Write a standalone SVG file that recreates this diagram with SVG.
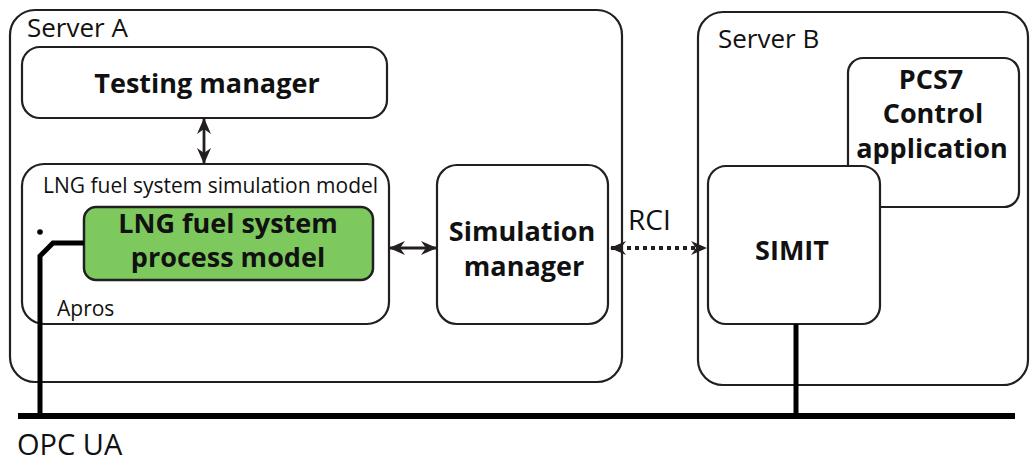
<svg xmlns="http://www.w3.org/2000/svg" width="1030" height="463" viewBox="0 0 1030 463">
<style>
.box{fill:#fff;stroke:#231f20;stroke-width:2.2}
.reg{font-family:"Open Sans","Liberation Sans",sans-serif;fill:#111}
.bold{font-family:"Open Sans","Liberation Sans",sans-serif;font-weight:bold;fill:#111;text-anchor:middle}
.thick{fill:none;stroke:#000;stroke-width:5}
.conn{fill:none;stroke:#231f20;stroke-width:2.8}
</style>
<defs>
<marker id="ah" viewBox="0 0 16 14" refX="15" refY="7" markerWidth="16" markerHeight="14" markerUnits="userSpaceOnUse" orient="auto-start-reverse">
<path d="M0,0 L16,7 L0,14 L5,7 z" fill="#231f20"/>
</marker>
</defs>
<rect width="1030" height="463" fill="#fff"/>
<g id="serverA">
<rect class="box" x="10" y="10" width="612" height="372" rx="25"/>
<text class="reg" x="27" y="37" font-size="26">Server A</text>
</g>
<g id="serverB">
<rect class="box" x="698" y="12" width="330" height="373" rx="25"/>
<text class="reg" x="718" y="48" font-size="26">Server B</text>
</g>
<g id="testing-manager">
<rect class="box" x="22" y="47" width="365" height="71" rx="18"/>
<text class="bold" x="207" y="93" font-size="27">Testing manager</text>
</g>
<g id="simulation-model">
<rect class="box" x="22" y="164" width="367" height="160" rx="22"/>
<text class="reg" x="43" y="193" font-size="21">LNG fuel system simulation model</text>
<text class="reg" x="57" y="316" font-size="21">Apros</text>
</g>
<g id="process-model">
<rect x="84" y="207" width="289" height="73" rx="12" fill="#7ec95e" stroke="#231f20" stroke-width="2.5"/>
<text class="bold" x="228" y="233" font-size="27">LNG fuel system</text>
<text class="bold" x="228" y="267" font-size="27">process model</text>
</g>
<g id="simulation-manager">
<rect class="box" x="437" y="165" width="171" height="159" rx="20"/>
<text class="bold" x="522" y="241" font-size="27">Simulation</text>
<text class="bold" x="524" y="276" font-size="27">manager</text>
</g>
<g id="pcs7">
<rect class="box" x="848" y="58" width="171" height="149" rx="15"/>
<text class="bold" x="931" y="89" font-size="27">PCS7</text>
<text class="bold" x="933" y="123" font-size="27">Control</text>
<text class="bold" x="932" y="158" font-size="27">application</text>
</g>
<g id="simit">
<rect class="box" x="708" y="166" width="172" height="158" rx="18"/>
<text class="bold" x="792" y="260" font-size="27">SIMIT</text>
</g>
<g id="connectors">
<line class="conn" x1="204" y1="119" x2="204" y2="163" marker-start="url(#ah)" marker-end="url(#ah)"/>
<line class="conn" x1="390" y1="248" x2="436" y2="248" marker-start="url(#ah)" marker-end="url(#ah)"/>
<line x1="611" y1="248" x2="706" y2="248" stroke="#231f20" stroke-width="4" stroke-dasharray="4 4" marker-start="url(#ah)" marker-end="url(#ah)"/>
<text class="reg" x="628" y="230" font-size="28">RCI</text>
<line x1="18" y1="416" x2="1015" y2="416" stroke="#000" stroke-width="6"/>
<path class="thick" d="M84,243 H53 L40,256 V416"/>
<line x1="796" y1="324" x2="796" y2="416" stroke="#000" stroke-width="5"/>
<circle cx="40" cy="232" r="2.8" fill="#000"/>
<text class="reg" x="17" y="455" font-size="29">OPC UA</text>
</g>
</svg>
